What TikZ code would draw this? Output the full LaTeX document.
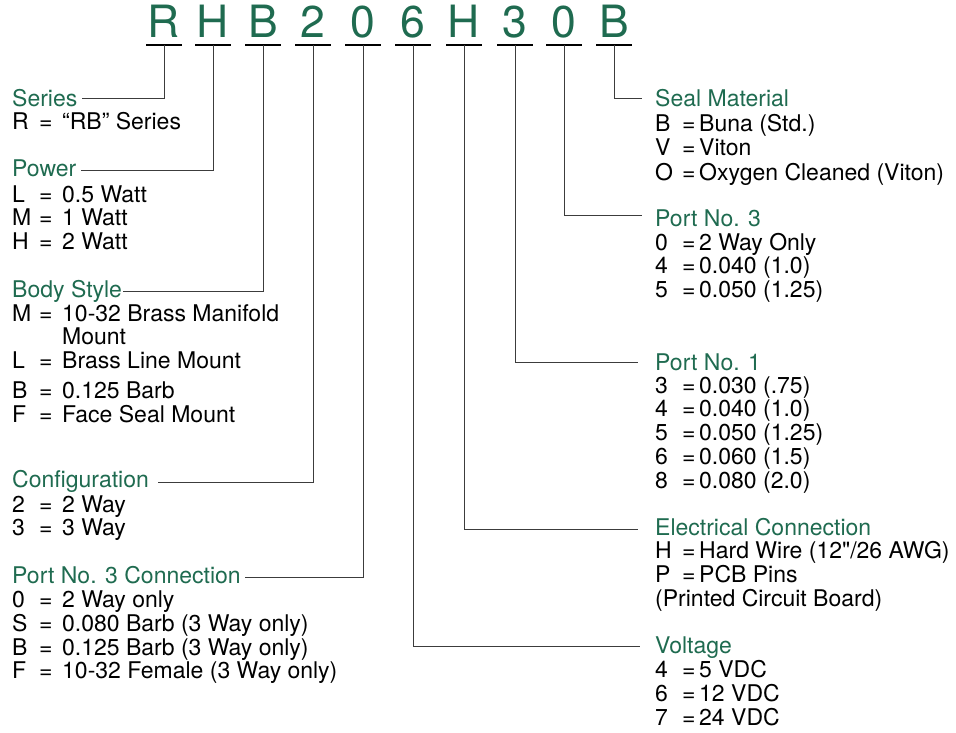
\documentclass[tikz,border=0pt]{standalone}
\usepackage{fontspec}
\setmainfont{TeX Gyre Heros}
\newfontfamily\rawfont{TeX Gyre Heros}[Ligatures=TeXOff]
\definecolor{codegreen}{RGB}{31,107,80}
\definecolor{wiregray}{RGB}{60,60,60}
\newcommand\kvL[2]{\makebox[27pt][l]{#1}\makebox[23pt][l]{=}#2}
\newcommand\kvR[2]{\makebox[27pt][l]{#1}\makebox[17pt][l]{=}#2}
\tikzset{
  codeletter/.style={font=\fontsize{44.5}{50}\selectfont, text=codegreen, inner sep=0pt, anchor=base},
  titletext/.style={font=\fontsize{23}{23.6}\selectfont, text=codegreen, inner sep=0pt, anchor=base west},
  itemtext/.style={font=\fontsize{23}{23.6}\selectfont, inner sep=0pt, anchor=base west},
  uline/.style={line width=2pt, black},
  wire/.style={line width=1pt, wiregray},
}
\begin{document}
\begin{tikzpicture}[x=1pt,y=-1pt]
\useasboundingbox (0,0) rectangle (956,733);
% code letters
\foreach \ch/\cx [count=\i] in {R/164,H/213,B/263,2/313,0/363,6/413,H/464,3/515,0/564,B/614}{
  \node[codeletter] (c\i) at (\cx,38) {\ch};
  \draw[uline] ([xshift=-18pt,yshift=-7pt]c\i.base) -- ([xshift=18pt,yshift=-7pt]c\i.base);
}
% left titles
\node[titletext] (series) at (12,107) {Series};
\node[itemtext] (seriesItems) at (12,130) {\begin{tabular}[t]{@{}l@{}}\kvL{R}{“RB” Series}\end{tabular}};
\node[titletext] (power) at (12,177) {Power};
\node[itemtext] (powerItems) at (12,202) {\begin{tabular}[t]{@{}l@{}}\kvL{L}{0.5 Watt}\\\kvL{M}{1 Watt}\\\kvL{H}{2 Watt}\end{tabular}};
\node[titletext] (body) at (12,297) {Body Style};
\node[itemtext] (bodyItems) at (12,321) {\begin{tabular}[t]{@{}l@{}}\kvL{M}{10-32 Brass Manifold}\\\hspace*{50pt}Mount\\\kvL{L}{Brass Line Mount}\\[6pt]\kvL{B}{0.125 Barb}\\\kvL{F}{Face Seal Mount}\end{tabular}};
\node[titletext] (config) at (12,487) {Configuration};
\node[itemtext] (configItems) at (12,512) {\begin{tabular}[t]{@{}l@{}}\kvL{2}{2 Way}\\\kvL{3}{3 Way}\end{tabular}};
\node[titletext] (portconn) at (12,583) {Port No. 3 Connection};
\node[itemtext] (portconnItems) at (12,607) {\begin{tabular}[t]{@{}l@{}}\kvL{0}{2 Way only}\\\kvL{S}{0.080 Barb (3 Way only)}\\\kvL{B}{0.125 Barb (3 Way only)}\\\kvL{F}{10-32 Female (3 Way only)}\end{tabular}};
% right titles
\node[titletext] (seal) at (655,107) {Seal Material};
\node[itemtext] (sealItems) at (655,132) {\begin{tabular}[t]{@{}l@{}}\kvR{B}{Buna (Std.)}\\\kvR{V}{Viton}\\\kvR{O}{Oxygen Cleaned (Viton)}\end{tabular}};
\node[titletext] (portthree) at (655,226) {Port No. 3};
\node[itemtext] (portthreeItems) at (655,250) {\begin{tabular}[t]{@{}l@{}}\kvR{0}{2 Way Only}\\\kvR{4}{0.040 (1.0)}\\\kvR{5}{0.050 (1.25)}\end{tabular}};
\node[titletext] (portone) at (655,370) {Port No. 1};
\node[itemtext] (portoneItems) at (655,393) {\begin{tabular}[t]{@{}l@{}}\kvR{3}{0.030 (.75)}\\\kvR{4}{0.040 (1.0)}\\\kvR{5}{0.050 (1.25)}\\\kvR{6}{0.060 (1.5)}\\\kvR{8}{0.080 (2.0)}\end{tabular}};
\node[titletext] (elec) at (655,535) {Electrical Connection};
\node[itemtext] (elecItems) at (655,558) {\begin{tabular}[t]{@{}l@{}}\kvR{H}{Hard Wire (12{\rawfont"}/26 AWG)}\\\kvR{P}{PCB Pins}\\(Printed Circuit Board)\end{tabular}};
\node[titletext] (volt) at (655,653) {Voltage};
\node[itemtext] (voltItems) at (655,677) {\begin{tabular}[t]{@{}l@{}}\kvR{4}{5 VDC}\\\kvR{6}{12 VDC}\\\kvR{7}{24 VDC}\end{tabular}};
% connector ends
\coordinate (eSeries) at (82,99);
\coordinate (ePower) at (81,171);
\coordinate (eBody) at (123,291);
\coordinate (eConfig) at (158,482);
\coordinate (ePortConn) at (245,577);
\coordinate (eVolt) at (640,646);
\coordinate (eElec) at (638,529);
\coordinate (ePortOne) at (638,362);
\coordinate (ePortThree) at (642,215);
\coordinate (eSeal) at (642,99);
% connectors
\draw[wire] ([yshift=-7pt]c1.base) |- (eSeries);
\draw[wire] ([yshift=-7pt]c2.base) |- (ePower);
\draw[wire] ([yshift=-7pt]c3.base) |- (eBody);
\draw[wire] ([yshift=-7pt]c4.base) |- (eConfig);
\draw[wire] ([yshift=-7pt]c5.base) |- (ePortConn);
\draw[wire] ([yshift=-7pt]c6.base) |- (eVolt);
\draw[wire] ([yshift=-7pt]c7.base) |- (eElec);
\draw[wire] ([yshift=-7pt]c8.base) |- (ePortOne);
\draw[wire] ([yshift=-7pt]c9.base) |- (ePortThree);
\draw[wire] ([yshift=-7pt]c10.base) |- (eSeal);
\end{tikzpicture}
\end{document}
